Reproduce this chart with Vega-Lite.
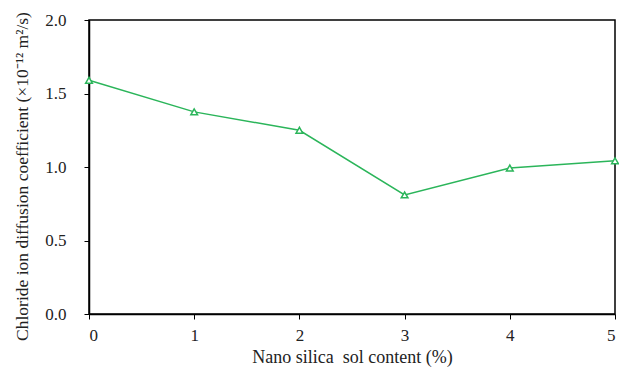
{
  "$schema": "https://vega.github.io/schema/vega-lite/v6.json",
  "width": 526,
  "height": 294,
  "autosize": {"type": "none"},
  "padding": {"left": 89, "top": 20, "right": 4, "bottom": 53},
  "background": "white",
  "config": {
    "view": {"stroke": "black", "strokeWidth": 1.5},
    "font": "Liberation Serif",
    "axis": {
      "labelFont": "Liberation Serif",
      "titleFont": "Liberation Serif",
      "labelFontSize": 17,
      "titleFontSize": 18,
      "titleFontWeight": "normal",
      "labelColor": "#222",
      "titleColor": "#222",
      "domainColor": "black",
      "domainWidth": 1.5,
      "tickColor": "black",
      "tickSize": 5,
      "grid": false
    }
  },
  "data": {
    "values": [
      {"x": 0, "y": 1.59},
      {"x": 1, "y": 1.375},
      {"x": 2, "y": 1.25},
      {"x": 3, "y": 0.81},
      {"x": 4, "y": 0.993},
      {"x": 5, "y": 1.042}
    ]
  },
  "layer": [
    {
      "mark": {"type": "line", "color": "#2BB55A", "strokeWidth": 1.5},
      "encoding": {
        "x": {"field": "x", "type": "quantitative"},
        "y": {"field": "y", "type": "quantitative"}
      }
    },
    {
      "mark": {"type": "point", "shape": "triangle-up", "filled": true, "fill": "white", "stroke": "#2BB55A", "strokeWidth": 1.5, "size": 45, "opacity": 1},
      "encoding": {
        "x": {
          "field": "x", "type": "quantitative",
          "scale": {"domain": [0, 5], "nice": false, "zero": false},
          "axis": {"values": [0, 1, 2, 3, 4, 5], "format": "d", "title": "Nano silica\u00a0 sol content (%)", "labelPadding": 8, "titlePadding": 5}
        },
        "y": {
          "field": "y", "type": "quantitative",
          "scale": {"domain": [0, 2], "nice": false},
          "axis": {"values": [0, 0.5, 1, 1.5, 2], "format": ".1f", "title": "Chloride ion diffusion coefficient (×10⁻¹² m²/s)", "titleFontSize": 17.5, "titleY": 156, "labelPadding": 18, "titlePadding": 13}
        }
      }
    }
  ]
}
